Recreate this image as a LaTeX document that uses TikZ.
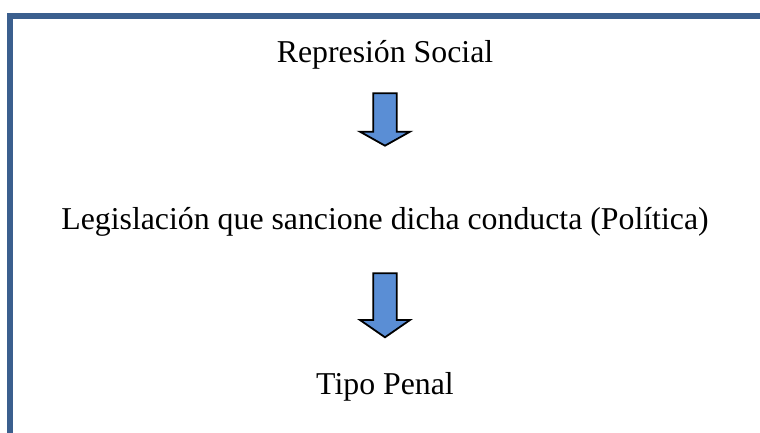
\documentclass[tikz,border=0pt]{standalone}
\usepackage{fontspec}
\setmainfont{Liberation Serif}
\definecolor{frameblue}{HTML}{3B5F8E}
\definecolor{arrowfill}{HTML}{5A8ED5}
\tikzset{
  lbl/.style={anchor=base, inner sep=0pt, font=\fontsize{31.8}{38}\selectfont},
  frameline/.style={draw=frameblue, line width=6pt},
  blockarrow/.style={draw=black, fill=arrowfill, line width=1.8pt, line join=miter},
  pics/downarrow/.style args={#1/#2}{code={
    % #1 = shaft length, #2 = head length
    \path[blockarrow] (-11.7,0) -- (11.7,0) -- (11.7,-#1) -- (25,-#1) -- (0,-#1-#2)
      -- (-25,-#1) -- (-11.7,-#1) -- cycle;
  }}
}
\begin{document}
\begin{tikzpicture}[x=1pt,y=1pt]
\useasboundingbox (0,0) rectangle (760,433);
\draw[frameline] (10,0) -- (10,417) -- (760,417);
\node[lbl] (social) at (385,370) {Represión Social};
\node[lbl] (leg) at (385,203) {Legislación que sancione dicha conducta (Política)};
\node[lbl] (tipo) at (385,38) {Tipo Penal};
\pic at (385,339.7) {downarrow={38.4/14}};
\pic at (385,159.7) {downarrow={46.7/17.3}};
\end{tikzpicture}
\end{document}
